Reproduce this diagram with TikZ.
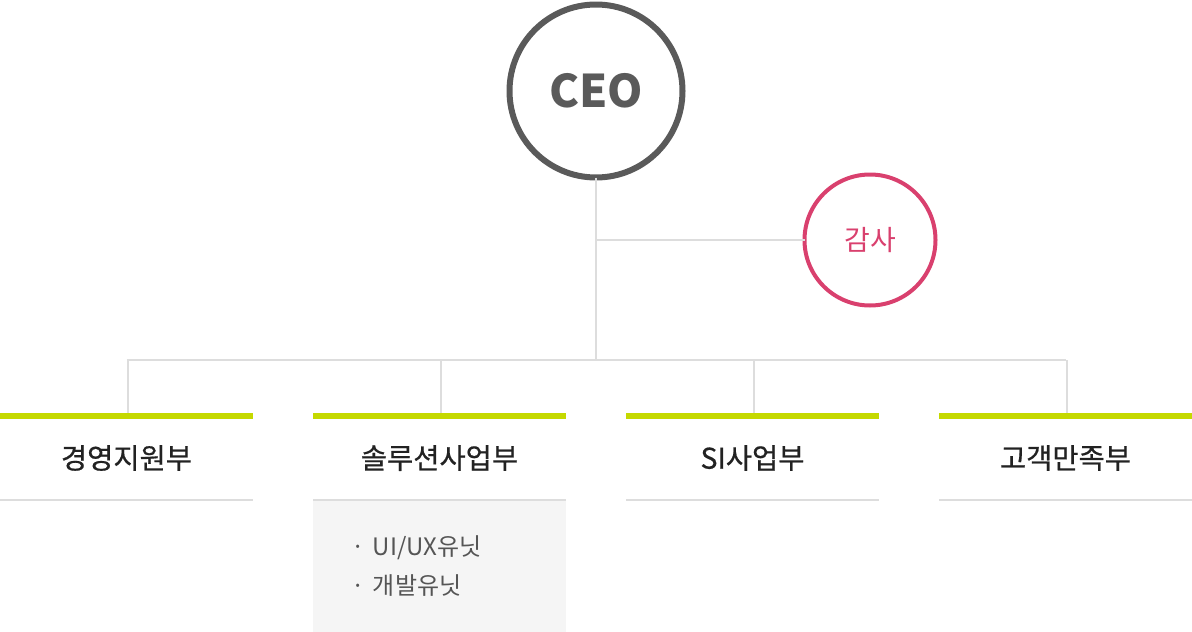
\documentclass[tikz,border=0pt]{standalone}
\usepackage{fontspec}
\setmainfont{Noto Sans CJK KR}
\newfontfamily\medfont[FakeBold=0.6]{Noto Sans CJK KR}
\usetikzlibrary{positioning}

\definecolor{ceogray}{HTML}{5A5A5A}
\definecolor{auditpink}{HTML}{D9406E}
\definecolor{linkgray}{HTML}{DDDDDD}
\definecolor{barlime}{HTML}{C5D900}
\definecolor{unitfill}{HTML}{F5F5F5}
\definecolor{depttext}{HTML}{222222}
\definecolor{unittext}{HTML}{555555}

\begin{document}
\begin{tikzpicture}[x=1pt, y=-1pt, every node/.style={inner sep=0pt, outer sep=0pt},
	ceobox/.style={circle, draw=ceogray, line width=6pt, minimum size=173pt, text=ceogray, font=\fontsize{45}{45}\selectfont\bfseries},
	auditbox/.style={circle, draw=auditpink, line width=4pt, minimum size=131pt, text=auditpink, font=\fontsize{28}{28}\selectfont},
	deptbox/.style={rectangle, minimum width=253pt, minimum height=84pt, text=depttext, font=\medfont\fontsize{28.5}{28.5}\selectfont},
	unitbox/.style={rectangle, fill=unitfill, minimum width=253pt, minimum height=131pt},
	link/.style={draw=linkgray, line width=2pt},
	bar/.style={draw=barlime, line width=6pt},
	rule/.style={draw=linkgray, line width=2pt}]
	\useasboundingbox (0,0) rectangle (1192,632);
	% top
	\node[ceobox] (ceo) at (596,91) {CEO};
	\node[auditbox] (audit) at (870,240) {감사};
	% departments
	\foreach \i/\cx/\name in {1/126.5/경영지원부, 2/439.5/솔루션사업부, 3/752.5/SI사업부, 4/1065.5/고객만족부} {
		\node[deptbox] (dept\i) at (\cx,458) {\raisebox{-2pt}{\name}};
		\draw[bar] (dept\i.north west) -- (dept\i.north east);
		\draw[rule] (dept\i.south west) -- (dept\i.south east);
	}
	\node[unitbox, anchor=north] (units) at ([yshift=-1pt]dept2.south) {};
	\node[anchor=west, align=left, text=unittext, font=\fontsize{24}{39}\selectfont] (unitlist) at (351,566)
		{\makebox[22pt][l]{·}UI/UX유닛\\\makebox[22pt][l]{·}개발유닛};
	% connectors
	\coordinate (bus) at (596,360);
	\draw[link] (ceo.south) -- (bus);
	\draw[link] (ceo.south |- audit.west) -- (audit.west);
	\draw[link] (bus -| dept1.north) -- (bus -| dept4.north);
	\foreach \i in {1,...,4} {
		\draw[link] ([xshift=1pt]bus -| dept\i.north) -- ([xshift=1pt,yshift=3pt]dept\i.north);
	}
\end{tikzpicture}
\end{document}
